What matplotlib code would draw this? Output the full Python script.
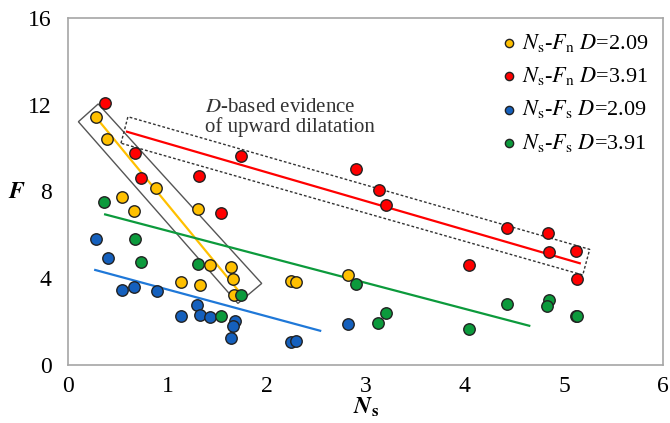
import numpy as np
import matplotlib
matplotlib.use('Agg')
import matplotlib.pyplot as plt
from matplotlib.patches import Polygon

plt.rcParams['font.family'] = ['Liberation Serif', 'DejaVu Serif']
plt.rcParams['mathtext.fontset'] = 'stix'

# Ns - Fn, D = 2.09 (yellow)
fn209_x = [0.28, 0.39, 0.54, 0.66, 0.88, 1.31, 1.14, 1.33, 1.43, 1.64, 1.66, 1.67, 2.25, 2.30, 2.82]
fn209_y = [11.45, 10.40, 7.74, 7.10, 8.18, 7.18, 3.82, 3.69, 4.61, 4.53, 3.95, 3.23, 3.88, 3.81, 4.15]

# Ns - Fn, D = 3.91 (red)
fn391_x = [0.37, 0.67, 0.73, 1.32, 1.74, 1.54, 2.90, 3.13, 3.20, 4.43, 4.84, 4.85, 5.12, 5.13, 4.04]
fn391_y = [12.09, 9.75, 8.63, 8.71, 9.65, 6.99, 9.02, 8.05, 7.37, 6.30, 6.07, 5.22, 5.27, 3.96, 4.61]

# Ns - Fs, D = 2.09 (blue)
fs209_x = [0.28, 0.40, 0.54, 0.66, 0.89, 1.14, 1.30, 1.33, 1.43, 1.68, 1.66, 1.64, 2.25, 2.30, 2.82]
fs209_y = [5.79, 4.95, 3.46, 3.58, 3.40, 2.27, 2.75, 2.30, 2.23, 2.04, 1.80, 1.23, 1.07, 1.12, 1.89]

# Ns - Fs, D = 3.91 (green)
fs391_x = [0.36, 0.67, 0.73, 1.31, 1.54, 1.74, 2.90, 3.20, 3.12, 4.04, 4.43, 4.85, 4.83, 5.12, 5.13]
fs391_y = [7.50, 5.81, 4.76, 4.64, 2.27, 3.23, 3.72, 2.38, 1.92, 1.64, 2.81, 3.00, 2.72, 2.26, 2.24]

# trend lines (start / end)
trend_yellow = ([0.30, 1.75], [11.29, 3.23])
trend_red = ([0.59, 5.16], [10.75, 4.69])
trend_green = ([0.37, 4.65], [6.94, 1.81])
trend_blue = ([0.27, 2.54], [4.38, 1.58])

# highlight boxes
box_solid = [(0.10, 11.21), (0.30, 12.03), (1.95, 3.76), (1.71, 2.84)]
box_dashed = [(0.53, 10.22), (0.60, 11.44), (5.26, 5.33), (5.19, 4.15)]

c_yellow = '#FFC000'
c_red = '#FF0000'
c_blue = '#1560BD'
c_green = '#0C9A3C'

fig = plt.figure(figsize=(6.7, 4.23), dpi=100)
ax = fig.add_axes([0.1022, 0.137, 0.8874, 0.821])

ax.add_patch(Polygon(box_solid, closed=True, fill=False, ec='#555555', lw=1.0, zorder=2))
ax.add_patch(Polygon(box_dashed, closed=True, fill=False, ec='#333333', lw=1.0,
                     ls=(0, (2, 1.5)), zorder=2))

ax.plot(*trend_yellow, color=c_yellow, lw=1.6, zorder=3)
ax.plot(*trend_red, color=c_red, lw=1.6, zorder=3)
ax.plot(*trend_green, color=c_green, lw=1.6, zorder=3)
ax.plot(*trend_blue, color='#1F78D8', lw=1.6, zorder=3)

ms = 68
ax.scatter(fn209_x, fn209_y, s=ms, color=c_yellow, edgecolors='#222222', linewidths=1.0, zorder=4,
           label=r'$N_{\mathrm{s}}$-$F_{\mathrm{n}}$ $D$=2.09')
ax.scatter(fn391_x, fn391_y, s=ms, color=c_red, edgecolors='#222222', linewidths=1.0, zorder=4,
           label=r'$N_{\mathrm{s}}$-$F_{\mathrm{n}}$ $D$=3.91')
ax.scatter(fs209_x, fs209_y, s=ms, color=c_blue, edgecolors='#222222', linewidths=1.0, zorder=4,
           label=r'$N_{\mathrm{s}}$-$F_{\mathrm{s}}$ $D$=2.09')
ax.scatter(fs391_x, fs391_y, s=ms, color=c_green, edgecolors='#222222', linewidths=1.0, zorder=4,
           label=r'$N_{\mathrm{s}}$-$F_{\mathrm{s}}$ $D$=3.91')

ax.text(1.38, 11.4, '$D$-based evidence\nof upward dilatation', fontsize=15, color='#333333',
        ha='left', va='center', linespacing=1.05)

ax.set_xlim(0, 6)
ax.set_ylim(0, 16)
ax.set_xticks(range(0, 7))
ax.set_yticks([0, 4, 8, 12, 16])
ax.tick_params(length=0, labelsize=17)
ax.tick_params(axis='y', pad=12)
ax.tick_params(axis='x', pad=8)
for sp in ax.spines.values():
    sp.set_color('#A6A6A6')
    sp.set_linewidth(1.2)

# axis titles
fig.text(366 / 670, 1 - 407 / 423, r'$\mathbfit{N}_{\mathbf{s}}$', fontsize=17, ha='center', va='center')
fig.text(17 / 670, 1 - 192 / 423, r'$\mathbfit{F}$', fontsize=17, ha='center', va='center')

ax.legend(loc='upper right', frameon=False, fontsize=16, handletextpad=0.0, handlelength=1.2,
          labelspacing=0.5, borderaxespad=0.25, markerscale=0.72, bbox_to_anchor=(1.0, 1.0))

fig.savefig('out.png', dpi=100)
